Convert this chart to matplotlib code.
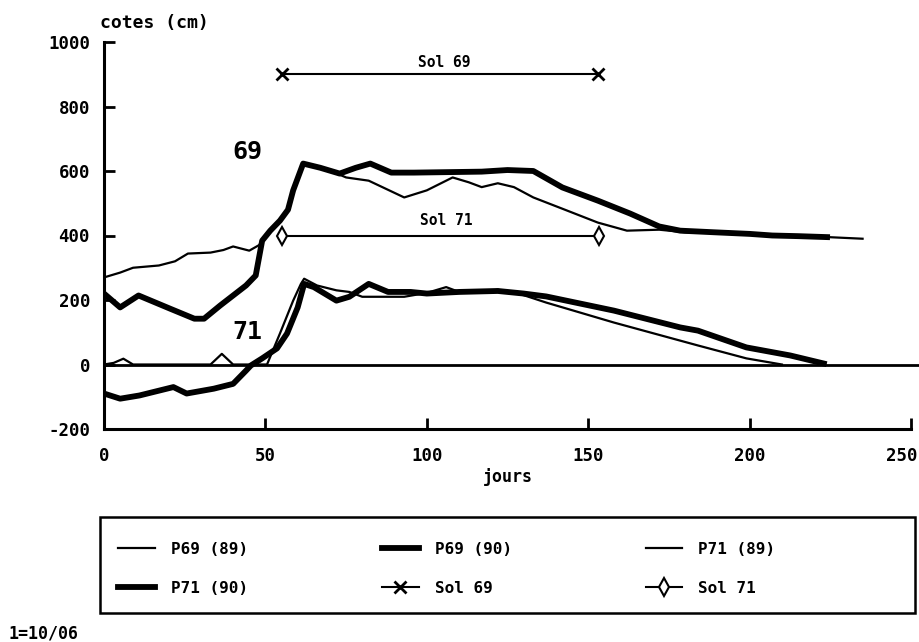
import matplotlib
matplotlib.use("Agg")
import matplotlib.pyplot as plt
from matplotlib.patches import Rectangle
from matplotlib.transforms import ScaledTranslation

plt.rcParams['font.family'] = ['DejaVu Sans Mono', 'DejaVu Sans']
plt.rcParams['font.weight'] = 'bold'
plt.rcParams['axes.unicode_minus'] = False

# ---- data ----
p69_89_x = [0, 5, 9, 17, 22, 26, 33, 37, 40, 45, 48, 51.5, 54.5, 57, 58.6, 61.7, 68, 75, 82, 93, 100, 108, 113, 117, 122, 127, 133, 142, 153, 162, 172, 180, 190, 200, 210, 220, 235]
p69_89_y = [270, 285, 300, 307, 320, 344, 347, 355, 366, 353, 370, 415, 446, 480, 540, 623, 610, 580, 570, 518, 540, 580, 565, 550, 562, 550, 518, 483, 440, 415, 418, 410, 408, 402, 400, 397, 390]

p69_90_x = [0, 5, 10.7, 20.5, 28, 31, 36, 44, 47, 49, 51.5, 54.5, 57, 58.6, 61.7, 67, 73, 78, 82.5, 89, 96, 110, 117, 125, 133, 142, 153, 163, 172, 178.5, 189, 200, 207, 215, 224]
p69_90_y = [220, 177, 214, 173, 142, 142, 183, 245, 276, 384, 415, 446, 480, 540, 623, 610, 592, 610, 623, 595, 595, 597, 598, 603, 600, 549, 508, 468, 428, 415, 410, 405, 400, 398, 395]

p71_89_x = [0, 3, 6, 9, 33, 36.5, 40, 50.5, 54.5, 58.6, 61, 62, 66, 72, 76, 80, 93, 100, 106, 110, 116, 122, 130, 137, 158, 184, 199, 210]
p71_89_y = [0, 5, 18, 0, 0, 33, 0, 0, 96, 198, 250, 266, 245, 230, 225, 210, 210, 222, 240, 225, 223, 232, 215, 192, 130, 59, 19, 0]

p71_90_x = [0, 5, 11, 21.5, 25.6, 34, 40, 44, 45.5, 49, 53.6, 56.7, 60, 62, 65, 72, 76, 82, 88, 95, 100, 110, 122, 130, 137, 158, 178.5, 184, 199, 212.6, 223]
p71_90_y = [-90, -106, -96, -70, -90, -75, -60, -19, -3, 19, 50, 96, 177, 250, 240, 198, 210, 250, 225, 225, 220, 225, 228, 220, 211, 167, 115, 105, 53, 28, 3]

sol69_x = [55, 153]
sol69_y = [900, 900]
sol71_x = [55, 153.5]
sol71_y = [400, 400]

x_ticks = [0, 50, 100, 150, 200, 250]
y_ticks = [-200, 0, 200, 400, 600, 800, 1000]

fig = plt.figure(figsize=(9.2, 6.42), dpi=100)
ax = fig.add_axes([104/920, 1-429/642, 807/920, 387/642])

thin = 1.6
thick = 4.2
l1, = ax.plot(p69_89_x, p69_89_y, color='black', lw=thin, label='P69 (89)')
l2, = ax.plot(p69_90_x, p69_90_y, color='black', lw=thick, label='P69 (90)')
l3, = ax.plot(p71_89_x, p71_89_y, color='black', lw=thin, label='P71 (89)')
l4, = ax.plot(p71_90_x, p71_90_y, color='black', lw=thick, label='P71 (90)')
l5, = ax.plot(sol69_x, sol69_y, color='black', lw=1.5, marker='x', ms=9, mew=2, label='Sol 69')
l6, = ax.plot(sol71_x, sol71_y, color='black', lw=1.5, marker='d', ms=9, mew=1.5,
              mfc='white', label='Sol 71')
ax.axhline(0, color='black', lw=2, clip_on=False, xmax=1.01)

ax.text(105.5, 936, 'Sol 69', ha='center', va='center', fontsize=10.5)
ax.text(106, 446, 'Sol 71', ha='center', va='center', fontsize=10.5)
ax.text(44.5, 660, '69', ha='center', va='center', fontsize=18)
ax.text(44.5, 102, '71', ha='center', va='center', fontsize=18)

ax.set_xlim(0, 250)
ax.set_ylim(-200, 1000)
ax.set_xticks(x_ticks)
ax.set_yticks(y_ticks)
for s in ['top', 'right']:
    ax.spines[s].set_visible(False)
for s in ['left', 'bottom']:
    ax.spines[s].set_linewidth(2.2)
ax.tick_params(axis='both', direction='in', length=8, width=2, labelsize=12.5)
ax.tick_params(axis='y', pad=10)
ax.tick_params(axis='x', pad=13)
ax.set_xlabel('jours', fontsize=12, fontweight='bold', labelpad=2)

# keep the last x tick label inside the figure
last = ax.get_xticklabels()[-1]
last.set_transform(last.get_transform() + ScaledTranslation(-0.09, 0, fig.dpi_scale_trans))

fig.text(100/920, 1-23/642, 'cotes (cm)', ha='left', va='center', fontsize=13)
fig.text(8/920, 1-633/642, '1=10/06', ha='left', va='center', fontsize=12)

handles = [l1, l4, l2, l5, l3, l6]
fig.legend(handles=handles, labels=[h.get_label() for h in handles], ncol=3,
           loc='upper left', bbox_to_anchor=(118/920, 1-542/642), frameon=False,
           borderpad=0, borderaxespad=0, fontsize=11.5, handlelength=2.3,
           handletextpad=1.0, columnspacing=8.4, labelspacing=1.5)
fig.patches.append(Rectangle((100/920, 1-613/642), 815/920, 96/642, transform=fig.transFigure,
                             fill=False, lw=1.8, edgecolor='black'))

fig.savefig('out.png', dpi=100)
